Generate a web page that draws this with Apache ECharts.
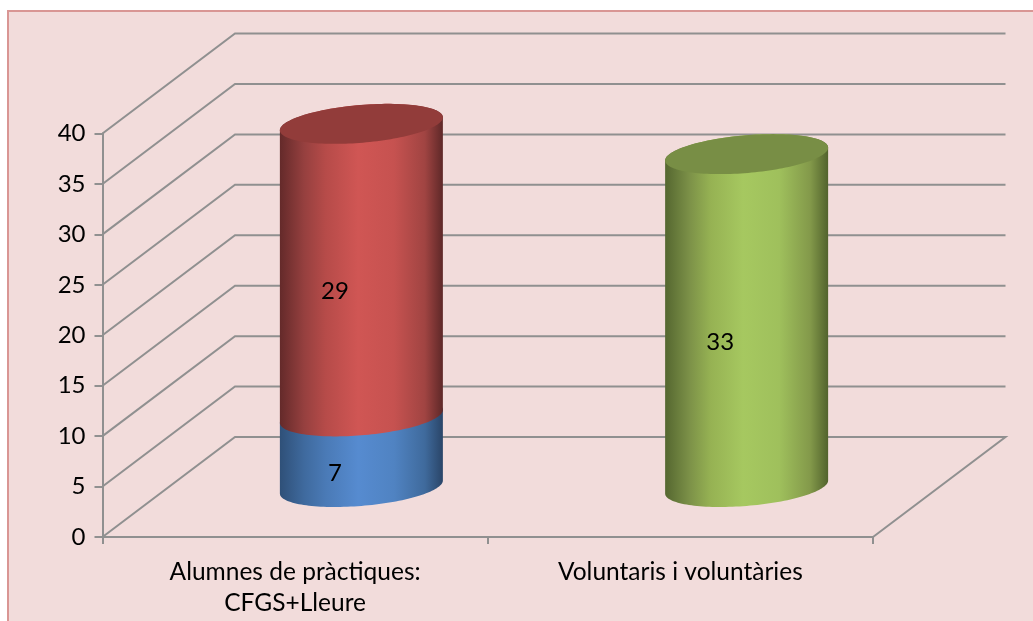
<!DOCTYPE html>
<html>
<head>
<meta charset="utf-8">
<style>html,body{margin:0;padding:0;background:#fff}#c{width:1033px;height:621px}</style>
<script src="https://cdn.jsdelivr.net/npm/echarts@6/dist/echarts.min.js"></script>
</head>
<body>
<div id="c"></div>
<script>
const categories = ['Alumnes de pràctiques:\nCFGS+Lleure', 'Voluntaris i voluntàries'];
const seriesNames = ['Alumnes de pràctiques', 'CFGS+Lleure', 'Voluntaris i voluntàries'];
const blueValues = [7, null];
const redValues = [29, null];
const greenValues = [null, 33];
const yTicks = [0, 5, 10, 15, 20, 25, 30, 35, 40];

const FONT = 'Lato';
const GREY = '#909090';
const DEPTH = [132.5, -100];
const TILT = 0.2;
const HALF_W = 81.5;

function walls(params, api) {
  const cs = params.coordSys;
  const v = api.value(0);
  const y = api.coord([0, v])[1];
  const x0 = cs.x, x1 = cs.x + cs.width;
  const pts = [[x0, y], [x0 + DEPTH[0], y + DEPTH[1]], [x1 + DEPTH[0], y + DEPTH[1]]];
  if (v === 0) pts.push([x1, y]);
  return {
    type: 'polyline', silent: true,
    shape: { points: pts },
    style: { stroke: GREY, lineWidth: 2, fill: null }
  };
}

function cylinder(palette, withTop) {
  return function (params, api) {
    const cat = api.value(0), low = api.value(1), high = api.value(2);
    const pLow = api.coord([cat, low]), pHigh = api.coord([cat, high]);
    const cx = pLow[0] + DEPTH[0] / 2;
    const yLow = pLow[1] + DEPTH[1] / 2, yHigh = pHigh[1] + DEPTH[1] / 2;
    const vx = DEPTH[0] * TILT, vy = DEPTH[1] * TILT;
    const ux = Math.sqrt(HALF_W * HALF_W - vx * vx);
    const t0 = Math.atan2(vx, ux);
    const at = (cy, t) => [cx + ux * Math.cos(t) + vx * Math.sin(t), cy + vy * Math.sin(t)];
    const side = [], ring = [];
    const N = 72;
    for (let i = 0; i <= N; i++) side.push(at(yLow, t0 + Math.PI + Math.PI * i / N));
    for (let i = 0; i <= N; i++) side.push(at(yHigh, t0 + Math.PI * i / N));
    for (let i = 0; i < N * 2; i++) ring.push(at(yHigh, Math.PI * i / N));
    const children = [{
      type: 'polygon',
      shape: { points: side },
      style: {
        fill: new echarts.graphic.LinearGradient(0, 0, 1, 0, palette.side),
        stroke: null
      }
    }];
    if (withTop) children.push({
      type: 'polygon',
      shape: { points: ring },
      style: { fill: palette.top, stroke: null }
    });
    children.push({
      type: 'text',
      z2: 10,
      style: {
        text: String(high - low),
        x: cx - vx,
        y: (yLow + yHigh) / 2 - vy + 1.5,
        align: 'center',
        verticalAlign: 'middle',
        fontFamily: FONT,
        fontSize: 24,
        fill: '#000'
      }
    });
    return { type: 'group', children };
  };
}

const BLUE = { side: [
  { offset: 0, color: '#2f5078' }, { offset: 0.15, color: '#3f6a9e' }, { offset: 0.28, color: '#4a7ab6' },
  { offset: 0.48, color: '#568bd0' }, { offset: 0.7, color: '#5083c2' }, { offset: 0.89, color: '#3f6a9c' },
  { offset: 1, color: '#2a4568' }] };
const RED = { top: '#923c3a', side: [
  { offset: 0, color: '#642a2a' }, { offset: 0.15, color: '#96403f' }, { offset: 0.28, color: '#b64b49' },
  { offset: 0.48, color: '#d05654' }, { offset: 0.7, color: '#c65250' }, { offset: 0.89, color: '#a04442' },
  { offset: 1, color: '#5e2828' }] };
const GREEN = { top: '#788e45', side: [
  { offset: 0, color: '#556730' }, { offset: 0.15, color: '#7c9148' }, { offset: 0.28, color: '#96b253' },
  { offset: 0.48, color: '#a6c860' }, { offset: 0.7, color: '#9fc05c' }, { offset: 0.89, color: '#83994a' },
  { offset: 1, color: '#52632d' }] };

const toRows = arr => arr.map((v, i) => v === null ? null : [i, 0, v]).filter(Boolean);
const stackOn = (arr, base) => arr.map((v, i) => v === null ? null : [i, base[i], base[i] + v]).filter(Boolean);

const option = {
  animation: false,
  backgroundColor: '#ffffff',
  textStyle: { fontFamily: FONT },
  graphic: [{
    type: 'rect', z: -10, silent: true,
    shape: { x: 8, y: 11, width: 1040, height: 640 },
    style: { fill: '#f2dcdb', stroke: '#d99694', lineWidth: 2 }
  }],
  grid: { left: 102.5, top: 133.5, width: 770.5, height: 403.5 },
  xAxis: {
    type: 'category', data: categories,
    axisLine: { show: true, lineStyle: { color: GREY, width: 2 } },
    axisTick: { show: true, length: 7, lineStyle: { color: GREY, width: 2 } },
    axisLabel: { color: '#000', fontFamily: FONT, fontSize: 24.5, margin: 19.5, lineHeight: 31, interval: 0 }
  },
  yAxis: {
    type: 'value', min: 0, max: 40, interval: 5,
    axisLine: { show: true, onZero: false, lineStyle: { color: GREY, width: 2 } },
    axisTick: { show: true, length: 8, lineStyle: { color: GREY, width: 2 } },
    axisLabel: { color: '#000', fontFamily: FONT, fontSize: 24, margin: 17, padding: [2, 0, 0, 0] },
    splitLine: { show: false }
  },
  series: [
    { type: 'custom', name: 'walls', silent: true, renderItem: walls, data: yTicks.map(v => [v]), encode: { y: 0 }, z: 1, clip: false },
    { type: 'custom', name: seriesNames[0], renderItem: cylinder(BLUE, false), data: toRows(blueValues), encode: { x: 0, y: [1, 2] }, z: 2, clip: false },
    { type: 'custom', name: seriesNames[1], renderItem: cylinder(RED, true), data: stackOn(redValues, blueValues), encode: { x: 0, y: [1, 2] }, z: 3, clip: false },
    { type: 'custom', name: seriesNames[2], renderItem: cylinder(GREEN, true), data: toRows(greenValues), encode: { x: 0, y: [1, 2] }, z: 2, clip: false }
  ]
};
const chart = echarts.init(document.getElementById('c'), null, { renderer: 'canvas' });
chart.setOption(option);
</script>
</body>
</html>
